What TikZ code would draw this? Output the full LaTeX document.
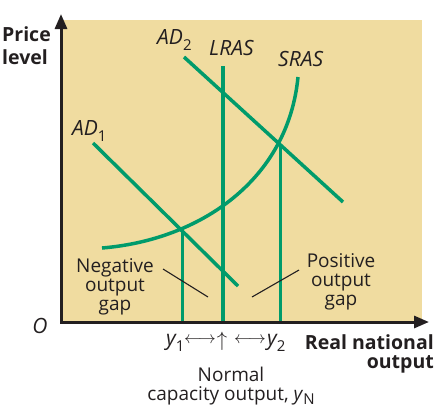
\documentclass[tikz,border=0pt]{standalone}
\usepackage{fontspec}
\setmainfont{Open Sans}
\usetikzlibrary{arrows.meta}
\definecolor{bgtan}{HTML}{F0DCA0}
\definecolor{curvegreen}{HTML}{009B6B}
\definecolor{ink}{HTML}{231F20}
\newcommand\subidx[2][6pt]{\raisebox{-#1}{\fontsize{15}{15}\selectfont\upshape #2}}
\begin{document}
\begin{tikzpicture}[x=1pt,y=-1pt,
  curve/.style={draw=curvegreen,line width=3.5pt},
  lrasline/.style={draw=curvegreen,line width=4pt},
  guide/.style={draw=curvegreen,line width=3pt},
  axis/.style={draw=ink,line width=3pt,{Triangle[length=15pt,width=12pt]}-{Triangle[length=15pt,width=12pt]}},
  lab/.style={text=ink,inner sep=0pt,font=\fontsize{19}{19}\selectfont},
  ilab/.style={text=ink,inner sep=0pt,font=\fontsize{21}{21}\selectfont\itshape},
  blab/.style={text=ink,inner sep=0pt,font=\fontsize{19.5}{23}\selectfont\bfseries},
  arrowsym/.style={text=ink,inner sep=0pt,anchor=base},
  leader/.style={draw=ink,line width=1.1pt}]
\useasboundingbox (0,0) rectangle (439,408);
\fill[bgtan] (61,20) rectangle (422,322);
% key points
\coordinate (O) at (61,322);
\coordinate (ytip) at (61,14);
\coordinate (xtip) at (429,322);
\coordinate (ad1a) at (93,143);
\coordinate (ad1b) at (238,286);
\coordinate (ad2a) at (184,57);
\coordinate (ad2b) at (343,202);
\coordinate (lrasT) at (223,66);
\coordinate (lrasB) at (223,322);
\coordinate (srasA) at (102,248);
\coordinate (srasB) at (298,77);
\coordinate (E1) at (182,231);
\coordinate (E2) at (280,146);
\coordinate (E1b) at (182,322);
\coordinate (E2b) at (280,322);
% curves
\draw[curve] (ad1a) -- (ad1b);
\draw[curve] (ad2a) -- (ad2b);
\draw[lrasline] (lrasT) -- (lrasB);
\draw[curve] (srasA) .. controls (200,240) and (288,180) .. (srasB);
\draw[guide] (E1) -- (E1b);
\draw[guide] (E2) -- (E2b);
% axes
\draw[axis] (ytip) -- (O) -- (xtip);
% labels
\node[blab,align=left,anchor=north west] (ylab) at (2,26) {Price\\level};
\node[blab,align=right,anchor=north east,font=\fontsize{19.5}{19}\selectfont\bfseries] (xlab) at (434,334) {Real national\\output};
\node[ilab,anchor=base] (olab) at (40,333) {O};
\node[ilab,anchor=base west] (ad1lab) at (72,135) {AD\subidx{1}};
\node[ilab,anchor=base west] (ad2lab) at (157,44) {AD\subidx{2}};
\node[ilab,anchor=base west] (lraslab) at (209,55) {LRAS};
\node[ilab,anchor=base west] (sraslab) at (278,66) {SRAS};
\node[lab,align=center,anchor=north] (neglab) at (115,258) {Negative\\output\\gap};
\node[lab,align=center,anchor=north] (poslab) at (341,253) {Positive\\output\\gap};
\coordinate (negA) at (163,269);
\coordinate (negB) at (208,297);
\coordinate (posA) at (299,270);
\coordinate (posB) at (252,297);
\draw[leader] (negA) -- (negB);
\draw[leader] (posA) -- (posB);
\node[ilab,anchor=base west] (y1lab) at (166,345) {y\subidx{1}};
\node[arrowsym,font=\fontsize{16}{16}\selectfont] (arrL) at (200,343) {$\longleftrightarrow$};
\node[arrowsym,font=\fontsize{22}{22}\selectfont] (arrU) at (222,346) {$\uparrow$};
\node[arrowsym,font=\fontsize{16}{16}\selectfont] (arrR) at (250,343) {$\longleftrightarrow$};
\node[ilab,anchor=base west] (y2lab) at (267,345) {y\subidx{2}};
\node[lab,align=center,anchor=north] (normlab) at (231,367) {Normal\\capacity output, \textit{y}\subidx[4pt]{N}};
\end{tikzpicture}
\end{document}
